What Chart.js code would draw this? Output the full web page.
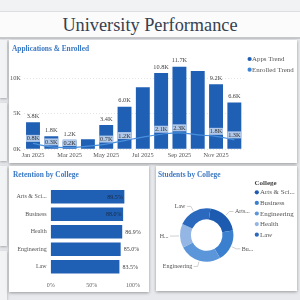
<!DOCTYPE html>
<html><head><meta charset="utf-8">
<script src="https://cdn.jsdelivr.net/npm/chart.js@4.4.1/dist/chart.umd.min.js"></script>
<style>
html,body{margin:0;padding:0;width:300px;height:300px;overflow:hidden;background:#e7e9ec;font-family:'Liberation Serif',serif;}
#hdrTop{position:absolute;left:0;top:0;width:300px;height:11px;background:#f1f2f4;border-bottom:1px solid #dcdee1;}
#hdr{position:absolute;left:0;top:12px;width:300px;height:25px;background:#fbfbfc;border-bottom:2px solid #c6c8cc;}
#hdr h1{margin:0;font-weight:normal;font-size:18.3px;color:#36414f;text-align:center;line-height:26px;font-family:'Liberation Serif',serif;}
.side{position:absolute;left:0;width:7px;background:#f2f3f5;box-shadow:0 1px 3px rgba(0,0,0,0.3);}
.panel{position:absolute;background:#fff;box-shadow:0 1px 3px rgba(0,0,0,0.35);}
.ptitle{position:absolute;font-size:7.4px;font-weight:bold;color:#3b78c4;white-space:nowrap;line-height:9px;font-family:'Liberation Serif',serif;}
canvas{position:absolute;left:0;top:0;}
</style></head>
<body>
<div id="hdrTop"></div>
<div id="hdr"><h1>University Performance</h1></div>
<div class="side" style="top:40px;height:58px"></div>
<div class="side" style="top:103px;height:58px"></div>
<div class="side" style="top:166px;height:80px"></div>
<div class="side" style="top:251px;height:49px"></div>

<div class="panel" style="left:9px;top:40px;width:288px;height:123px">
  <canvas id="topChart" width="288" height="123"></canvas>
  <div class="ptitle" style="left:3px;top:4px">Applications &amp; Enrolled</div>
</div>
<div class="panel" style="left:9px;top:166px;width:140px;height:126px">
  <canvas id="retChart" width="140" height="126"></canvas>
  <div class="ptitle" style="left:4px;top:4px">Retention by College</div>
</div>
<div class="panel" style="left:156px;top:166px;width:141px;height:125px">
  <canvas id="donChart" width="141" height="125"></canvas>
  <div class="ptitle" style="left:2px;top:4px">Students by College</div>
</div>

<script>
// ---------- data ----------
const months = ['Jan 2025','Feb 2025','Mar 2025','Apr 2025','May 2025','Jun 2025','Jul 2025','Aug 2025','Sep 2025','Oct 2025','Nov 2025','Dec 2025'];
const applications = [3800,1800,1200,1400,3400,6000,8800,10800,11700,11100,9200,6600];
const enrolled = [800,300,200,400,700,1200,1700,2100,2300,2000,1800,1300];
const unlabeledMonths = ['Apr 2025','Jul 2025','Oct 2025'];
const yTicks = [0,5000,10000];
const trendLegend = ['Apps Trend','Enrolled Trend'];

const retentionColleges = ['Arts & Sciences','Business','Health','Engineering','Law'];
const retention = [89.5,88.0,86.9,85.0,83.5];
const retentionTicks = [0,50,100];

const studentColleges = ['Arts & Sciences','Business','Engineering','Health','Law'];
const students = [2020,1960,2580,1460,2070];

// ---------- style ----------
const F = "'Liberation Serif', serif";
const BLUE = '#1f5fb4';
const LINE_BLUE = '#4a8fdc';
const donutColors = ['#1d5bb0','#3b7fcf','#5c96da','#93b6e4','#2b69be'];

const mctx = document.createElement('canvas').getContext('2d');
function fit(text, maxW, font){
  mctx.font = font;
  if (mctx.measureText(text).width <= maxW) return text;
  let t = text;
  while (t.length > 1 && mctx.measureText(t + '...').width > maxW) t = t.slice(0,-1);
  return t.replace(/\s+$/,'') + '...';
}
const fmtK = v => (v/1000).toFixed(1) + 'K';

// ---------- top chart ----------
const topPlugin = {
  id:'topPlugin',
  afterDatasetsDraw(chart){
    const ctx = chart.ctx;
    const lineMeta = chart.getDatasetMeta(0), barMeta = chart.getDatasetMeta(1);
    ctx.save();
    ctx.font = `6.3px ${F}`;
    ctx.textAlign = 'center'; ctx.textBaseline = 'middle';
    months.forEach((m,i)=>{
      if (unlabeledMonths.includes(m)) return;
      const bar = barMeta.data[i];
      ctx.fillStyle = '#444';
      ctx.fillText(fmtK(applications[i]), bar.x, bar.y - 6);
      const pt = lineMeta.data[i];
      const w = bar.width, h = 7, cy = pt.y - 5;
      ctx.fillStyle = 'rgba(184,206,236,0.95)';
      ctx.fillRect(bar.x - w/2, cy - h/2, w, h);
      ctx.fillStyle = '#333';
      ctx.fillText(fmtK(enrolled[i]), bar.x, cy + 0.3);
    });
    // legend
    const cols = [BLUE, '#3d86d8'];
    ctx.textAlign = 'left';
    ctx.font = `6.9px ${F}`;
    trendLegend.forEach((t,i)=>{
      const y = 19 + i*10.7;
      ctx.fillStyle = cols[i];
      ctx.beginPath(); ctx.arc(240.6, y, 2.1, 0, Math.PI*2); ctx.fill();
      ctx.fillStyle = '#555';
      ctx.fillText(t, 243, y + 0.3);
    });
    ctx.restore();
  }
};

new Chart(document.getElementById('topChart'), {
  data:{
    labels: months,
    datasets:[
      {type:'line', label:trendLegend[1], data:enrolled, borderColor:LINE_BLUE, borderWidth:1.2, pointRadius:0, tension:0.4, order:0},
      {type:'bar', label:trendLegend[0], data:applications, backgroundColor:BLUE, barPercentage:0.76, categoryPercentage:1, order:1}
    ]
  },
  options:{
    responsive:false, animation:false,
    layout:{padding:{left:0,right:53.5,top:17.6,bottom:0}},
    plugins:{legend:{display:false}, tooltip:{enabled:false}},
    scales:{
      x:{
        grid:{display:false, drawTicks:false}, border:{display:false},
        ticks:{font:{family:F,size:6.3}, color:'#555', padding:3, maxRotation:0, autoSkip:false,
          callback:(v,i)=> i%2===0 ? months[i] : ''},
        afterFit:s=>{s.height=14;}
      },
      y:{
        min:0, max:13000,
        afterBuildTicks:s=>{s.ticks = yTicks.map(v=>({value:v}));},
        ticks:{font:{family:F,size:6.3}, color:'#555', padding:3, callback:v=>(v/1000)+'K'},
        grid:{color:'#d9d9d9', lineWidth:0.7, drawTicks:false},
        border:{display:false, dash:[1,2]},
        afterFit:s=>{s.width=14.85;}
      }
    }
  },
  plugins:[topPlugin]
});

// ---------- retention chart ----------
const retPlugin = {
  id:'retPlugin',
  afterDatasetsDraw(chart){
    const ctx = chart.ctx, meta = chart.getDatasetMeta(0);
    ctx.save();
    ctx.font = `6px ${F}`; ctx.textBaseline = 'middle';
    retention.forEach((v,i)=>{
      const b = meta.data[i];
      const txt = v.toFixed(1) + '%';
      const w = ctx.measureText(txt).width;
      if (b.x + 3 + w > chart.width - 8) {
        ctx.textAlign = 'right'; ctx.fillStyle = '#1c2b44';
        ctx.fillText(txt, b.x - 1.6, b.y + 0.3);
      } else {
        ctx.textAlign = 'left'; ctx.fillStyle = '#444';
        ctx.fillText(txt, b.x + 3, b.y + 0.3);
      }
    });
    // value-axis tick labels
    const xs = chart.scales.x;
    ctx.textAlign = 'center'; ctx.fillStyle = '#666';
    retentionTicks.forEach(v=>{
      ctx.fillText(v + '%', xs.getPixelForValue(v), chart.chartArea.bottom + 9.5);
    });
    ctx.restore();
  }
};

new Chart(document.getElementById('retChart'), {
  type:'bar',
  data:{labels:retentionColleges, datasets:[{data:retention, backgroundColor:BLUE, barPercentage:0.78, categoryPercentage:1}]},
  options:{
    indexAxis:'y', responsive:false, animation:false,
    layout:{padding:{left:0,right:16,top:21.95,bottom:0}},
    plugins:{legend:{display:false}, tooltip:{enabled:false}},
    scales:{
      x:{min:0,max:100,
        ticks:{display:false},
        grid:{display:false, drawTicks:false}, border:{display:false},
        afterFit:s=>{s.height=16.55;}
      },
      y:{
        grid:{display:false, drawTicks:false}, border:{display:false},
        ticks:{font:{family:F,size:6}, color:'#555', padding:4,
          callback:(v,i)=>fit(retentionColleges[i], 31.5, `6px ${F}`)},
        afterFit:s=>{s.width=41.7;}
      }
    }
  },
  plugins:[retPlugin]
});

// ---------- doughnut chart ----------
const donPlugin = {
  id:'donPlugin',
  afterDraw(chart){
    const ctx = chart.ctx, meta = chart.getDatasetMeta(0);
    ctx.save();
    const lf = `6px ${F}`;
    ctx.font = lf; ctx.textBaseline = 'middle';
    const legendLeft = 98.5;
    meta.data.forEach((arc,i)=>{
      const mid = (arc.startAngle + arc.endAngle)/2;
      const r = arc.outerRadius;
      const x0 = arc.x + Math.cos(mid)*(r+1), y0 = arc.y + Math.sin(mid)*(r+1);
      const x1 = arc.x + Math.cos(mid)*(r+6), y1 = arc.y + Math.sin(mid)*(r+6);
      const right = Math.cos(mid) >= 0;
      const x2 = x1 + (right ? 4 : -4);
      ctx.strokeStyle = '#b0b0b0'; ctx.lineWidth = 0.6;
      ctx.beginPath(); ctx.moveTo(x0,y0); ctx.lineTo(x1,y1); ctx.lineTo(x2,y1); ctx.stroke();
      const tx = x2 + (right ? 1.5 : -1.5);
      const avail = right ? legendLeft - tx : tx - 2;
      ctx.fillStyle = '#555';
      ctx.textAlign = right ? 'left' : 'right';
      ctx.fillText(fit(studentColleges[i], avail, lf), tx, y1 + 0.3);
    });
    // legend
    ctx.textAlign = 'left';
    ctx.font = `bold 7px ${F}`; ctx.fillStyle = '#444';
    ctx.fillText('College', legendLeft, 17.5);
    const lfont = `6.9px ${F}`;
    studentColleges.forEach((c,i)=>{
      const y = 26.3 + i*10.6;
      ctx.fillStyle = donutColors[i];
      ctx.beginPath(); ctx.arc(100.8, y, 2.1, 0, Math.PI*2); ctx.fill();
      ctx.font = lfont; ctx.fillStyle = '#555';
      ctx.fillText(fit(c, 35, lfont), 104, y + 0.3);
    });
    ctx.restore();
  }
};

new Chart(document.getElementById('donChart'), {
  type:'doughnut',
  data:{labels:studentColleges, datasets:[{data:students, backgroundColor:donutColors, borderWidth:0}]},
  options:{
    responsive:false, animation:false, rotation:8, cutout:'59%',
    layout:{padding:{left:24,right:63.6,top:42.3,bottom:29.3}},
    plugins:{legend:{display:false}, tooltip:{enabled:false}}
  },
  plugins:[donPlugin]
});
</script>
</body></html>
